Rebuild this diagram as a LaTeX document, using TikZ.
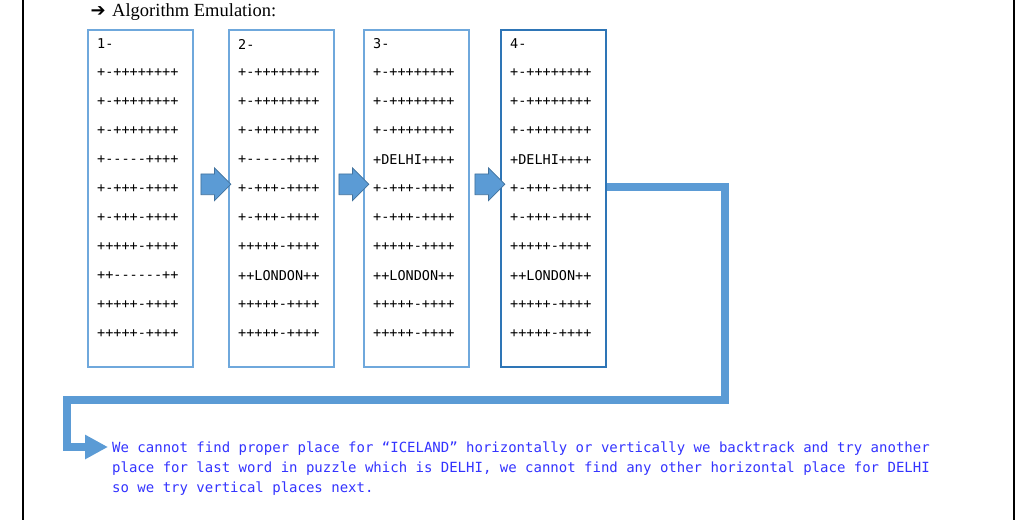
\documentclass[tikz,border=0pt]{standalone}
\usepackage{fontspec}
\setmainfont{Liberation Serif}
\setmonofont{DejaVu Sans Mono}
\newfontfamily\symfont{DejaVu Sans}
\usetikzlibrary{calc,shapes.arrows,arrows.meta}
\definecolor{boxblue}{RGB}{111,168,220}
\definecolor{boxdark}{RGB}{46,117,182}
\definecolor{flowblue}{RGB}{91,155,213}
\definecolor{flowedge}{RGB}{65,113,156}
\definecolor{notecol}{RGB}{51,51,255}
\tikzset{
	gridbox/.style={draw=#1, line width=1.5pt, minimum width=105pt, minimum height=337pt, anchor=north west, inner sep=0pt},
	gridrow/.style={anchor=west, inner sep=0pt, font=\ttfamily\fontsize{13.5}{16}\selectfont},
	stepper/.style={single arrow, fill=flowblue, draw=flowedge, line width=0.75pt, minimum height=30pt, minimum width=32pt, single arrow head extend=6pt, inner xsep=0pt, inner ysep=10pt},
	flow/.style={draw=flowblue, line width=8pt, -{Triangle[length=23pt,width=23pt]}}
}

\begin{document}
\begin{tikzpicture}[x=1pt, y=-1pt]
		\useasboundingbox (0,0) rectangle (1028,520);
		% page margins
		\draw[line width=1.5pt] (23,0) -- (23,520);
		\draw[line width=1.5pt] (1014,0) -- (1014,520);
		% heading
		\node[anchor=base west, inner sep=0pt, font=\fontsize{18.5}{22}\selectfont] (title) at (112,16) {Algorithm Emulation:};
		\node[anchor=base east, inner sep=0pt, font=\symfont\bfseries\fontsize{18}{20}\selectfont] (mark) at ($(title.base west)+(-6,0)$) {➔};
		% the four puzzle states
		\foreach \n/\x/\c/\rows in {
			1/87/boxblue/{+-++++++++,+-++++++++,+-++++++++,+-----++++,+-+++-++++,+-+++-++++,+++++-++++,++------++,+++++-++++,+++++-++++},
			2/228/boxblue/{+-++++++++,+-++++++++,+-++++++++,+-----++++,+-+++-++++,+-+++-++++,+++++-++++,++LONDON++,+++++-++++,+++++-++++},
			3/363/boxblue/{+-++++++++,+-++++++++,+-++++++++,+DELHI++++,+-+++-++++,+-+++-++++,+++++-++++,++LONDON++,+++++-++++,+++++-++++},
			4/500/boxdark/{+-++++++++,+-++++++++,+-++++++++,+DELHI++++,+-+++-++++,+-+++-++++,+++++-++++,++LONDON++,+++++-++++,+++++-++++}} {
			\node[gridbox=\c] (b\n) at (\x,29) {};
			\node[gridrow] (b\n-0) at ($(b\n.north west)+(10,15)$) {\n-};
			\foreach \r [count=\i] in \rows
				\node[gridrow] (b\n-\i) at ($(b\n.north west)+(10,15+29*\i)$) {\r};
		}
		% steps between states
		\foreach \a/\b in {b1/b2, b2/b3, b3/b4}
			\node[stepper] (go\b) at ($(\a.east)!0.5!(\b.west)+(0,-14)$) {};
		% conclusion
		\node[anchor=north west, align=left, inner sep=0pt, text=notecol, font=\ttfamily\fontsize{14}{20}\selectfont] (note) at (112,442)
			{We cannot find proper place for “ICELAND” horizontally or vertically we backtrack and try another\\
			 place for last word in puzzle which is DELHI, we cannot find any other horizontal place for DELHI\\
			 so we try vertical places next.};
		\coordinate (out) at ($(b4.north east)+(0,158)$);
		\coordinate (tip) at ($(note.north west)+(-4,5)$);
		\draw[flow] (out) -- ++(118,0) |- (67,400) |- (tip);
	\end{tikzpicture}
\end{document}
